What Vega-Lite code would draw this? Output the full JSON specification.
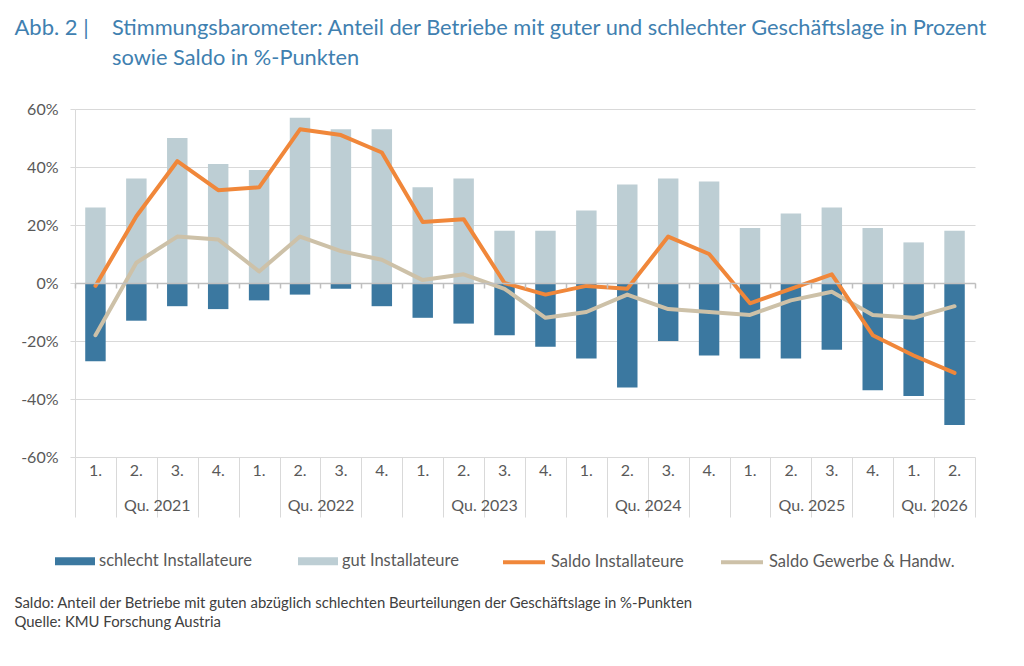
{
  "$schema": "https://vega.github.io/schema/vega-lite/v6.json",
  "width": 900,
  "height": 348,
  "autosize": {"type": "none"},
  "padding": {"left": 75, "top": 109, "right": 49, "bottom": 209},
  "background": "white",
  "config": {
    "view": {"stroke": null},
    "font": "Lato",
    "legend": {
      "orient": "none",
      "direction": "horizontal",
      "labelFontSize": 16.5,
      "labelColor": "#595959",
      "labelFont": "Lato",
      "labelOffset": 4,
      "labelLimit": 400,
      "padding": 0
    }
  },
  "title": {
    "text": [
      "Stimmungsbarometer: Anteil der Betriebe mit guter und schlechter Geschäftslage in Prozent",
      "sowie Saldo in %-Punkten"
    ],
    "anchor": "start",
    "frame": "group",
    "dx": 37,
    "dy": 58,
    "fontSize": 21.8,
    "fontWeight": "normal",
    "font": "Lato",
    "color": "#4080B0",
    "lineHeight": 30
  },
  "data": {
    "values": [
      {"q": "2021-1", "gut": 26, "schlecht": -27, "saldoI": -1, "saldoG": -18},
      {"q": "2021-2", "gut": 36, "schlecht": -13, "saldoI": 23, "saldoG": 7},
      {"q": "2021-3", "gut": 50, "schlecht": -8, "saldoI": 42, "saldoG": 16},
      {"q": "2021-4", "gut": 41, "schlecht": -9, "saldoI": 32, "saldoG": 15},
      {"q": "2022-1", "gut": 39, "schlecht": -6, "saldoI": 33, "saldoG": 4},
      {"q": "2022-2", "gut": 57, "schlecht": -4, "saldoI": 53, "saldoG": 16},
      {"q": "2022-3", "gut": 53, "schlecht": -2, "saldoI": 51, "saldoG": 11},
      {"q": "2022-4", "gut": 53, "schlecht": -8, "saldoI": 45, "saldoG": 8},
      {"q": "2023-1", "gut": 33, "schlecht": -12, "saldoI": 21, "saldoG": 1},
      {"q": "2023-2", "gut": 36, "schlecht": -14, "saldoI": 22, "saldoG": 3},
      {"q": "2023-3", "gut": 18, "schlecht": -18, "saldoI": 0, "saldoG": -2},
      {"q": "2023-4", "gut": 18, "schlecht": -22, "saldoI": -4, "saldoG": -12},
      {"q": "2024-1", "gut": 25, "schlecht": -26, "saldoI": -1, "saldoG": -10},
      {"q": "2024-2", "gut": 34, "schlecht": -36, "saldoI": -2, "saldoG": -4},
      {"q": "2024-3", "gut": 36, "schlecht": -20, "saldoI": 16, "saldoG": -9},
      {"q": "2024-4", "gut": 35, "schlecht": -25, "saldoI": 10, "saldoG": -10},
      {"q": "2025-1", "gut": 19, "schlecht": -26, "saldoI": -7, "saldoG": -11},
      {"q": "2025-2", "gut": 24, "schlecht": -26, "saldoI": -2, "saldoG": -6},
      {"q": "2025-3", "gut": 26, "schlecht": -23, "saldoI": 3, "saldoG": -3},
      {"q": "2025-4", "gut": 19, "schlecht": -37, "saldoI": -18, "saldoG": -11},
      {"q": "2026-1", "gut": 14, "schlecht": -39, "saldoI": -25, "saldoG": -12},
      {"q": "2026-2", "gut": 18, "schlecht": -49, "saldoI": -31, "saldoG": -8}
    ]
  },
  "layer": [
    {
      "mark": {"type": "bar", "width": {"band": 0.5}},
      "encoding": {
        "x": {
          "field": "q",
          "type": "nominal",
          "scale": {"type": "band", "paddingInner": 0, "paddingOuter": 0},
          "axis": {
            "orient": "bottom",
            "title": null,
            "domain": false,
            "ticks": false,
            "grid": false,
            "labelExpr": "split(datum.value, '-')[1] + '.'",
            "labelAngle": 0,
            "labelFontSize": 16,
            "labelColor": "#595959",
            "labelBaseline": "middle",
            "labelPadding": 13
          }
        },
        "y": {
          "field": "gut",
          "type": "quantitative",
          "scale": {"domain": [-60, 60], "nice": false},
          "axis": {
            "orient": "left",
            "values": [-60, -40, -20, 0, 20, 40, 60],
            "labelExpr": "datum.value + '%'",
            "grid": true,
            "gridColor": "#D9D9D9",
            "domainColor": "#D9D9D9",
            "tickColor": "#D9D9D9",
            "tickSize": 5,
            "labelFontSize": 16,
            "labelColor": "#595959",
            "labelPadding": 12,
            "title": "Abb. 2 |",
            "titleX": -61,
            "titleY": -82,
            "titleAngle": 0,
            "titleAlign": "left",
            "titleBaseline": "middle",
            "titleFontSize": 22,
            "titleFontWeight": "normal",
            "titleFont": "Lato",
            "titleColor": "#4080B0"
          }
        },
        "fill": {
          "datum": "gut Installateure",
          "type": "nominal",
          "scale": {
            "domain": ["schlecht Installateure", "gut Installateure"],
            "range": ["#3B78A0", "#BDCED4"]
          },
          "legend": {
            "title": null,
            "legendX": -20,
            "legendY": 432,
            "symbolType": "M-1,-0.2H1V0.2H-1Z",
            "symbolSize": 1600,
            "symbolStrokeWidth": 0,
            "columnPadding": 46
          }
        }
      }
    },
    {
      "mark": {"type": "bar", "width": {"band": 0.5}},
      "encoding": {
        "x": {
          "field": "q",
          "type": "nominal",
          "axis": {
            "orient": "bottom",
            "domain": false,
            "grid": false,
            "tickBand": "extent",
            "tickColor": "#D9D9D9",
            "tickWidth": 1,
            "tickSize": 60,
            "encode": {
              "ticks": {
                "y2": {"signal": "datum.value != null && slice(datum.value, 5) != '4' && datum.value != '2026-2' ? 30 : 60"}
              }
            },
            "labelExpr": "datum.value != null && ((slice(datum.value, 5) == '2' && datum.value != '2026-2') || datum.value == '2026-1') ? 'Qu. ' + slice(datum.value, 0, 4) : ''",
            "labelOffset": 20.45,
            "labelAngle": 0,
            "labelFontSize": 16,
            "labelColor": "#595959",
            "labelBaseline": "middle",
            "labelPadding": -12,
            "title": [
              "Saldo: Anteil der Betriebe mit guten abzüglich schlechten Beurteilungen der Geschäftslage in %-Punkten",
              "Quelle: KMU Forschung Austria"
            ],
            "titleX": -61,
            "titleY": 138,
            "titleAlign": "left",
            "titleBaseline": "top",
            "titleFontSize": 14.9,
            "titleFontWeight": "normal",
            "titleFont": "Lato",
            "titleColor": "#404040",
            "titleLineHeight": 19
          }
        },
        "y": {"field": "schlecht", "type": "quantitative", "axis": null},
        "fill": {"datum": "schlecht Installateure", "type": "nominal"}
      }
    },
    {
      "mark": {"type": "line", "strokeWidth": 4, "strokeJoin": "round", "strokeCap": "round"},
      "encoding": {
        "x": {
          "field": "q",
          "type": "nominal",
          "axis": {
            "orient": "bottom",
            "offset": -174,
            "title": null,
            "labels": false,
            "grid": false,
            "domain": true,
            "domainColor": "#BFBFBF",
            "domainWidth": 1.5,
            "ticks": true,
            "tickBand": "extent",
            "tickSize": 5,
            "tickColor": "#BFBFBF",
            "tickWidth": 1.5,
            "zindex": 1,
            "encode": {"ticks": {"y": {"value": -5}}}
          }
        },
        "y": {"field": "saldoG", "type": "quantitative", "axis": null},
        "stroke": {
          "datum": "Saldo Gewerbe & Handw.",
          "type": "nominal",
          "scale": {
            "domain": ["Saldo Installateure", "Saldo Gewerbe & Handw."],
            "range": ["#F0873A", "#CDC1A8"]
          },
          "legend": {
            "title": null,
            "legendX": 426,
            "legendY": 430,
            "symbolType": "stroke",
            "symbolSize": 1764,
            "symbolStrokeWidth": 4,
            "columnPadding": 29
          }
        }
      }
    },
    {
      "mark": {"type": "line", "strokeWidth": 4, "strokeJoin": "round", "strokeCap": "round"},
      "encoding": {
        "x": {"field": "q", "type": "nominal", "axis": null},
        "y": {"field": "saldoI", "type": "quantitative", "axis": null},
        "stroke": {"datum": "Saldo Installateure", "type": "nominal"}
      }
    }
  ],
  "resolve": {"axis": {"x": "independent", "y": "independent"}}
}
